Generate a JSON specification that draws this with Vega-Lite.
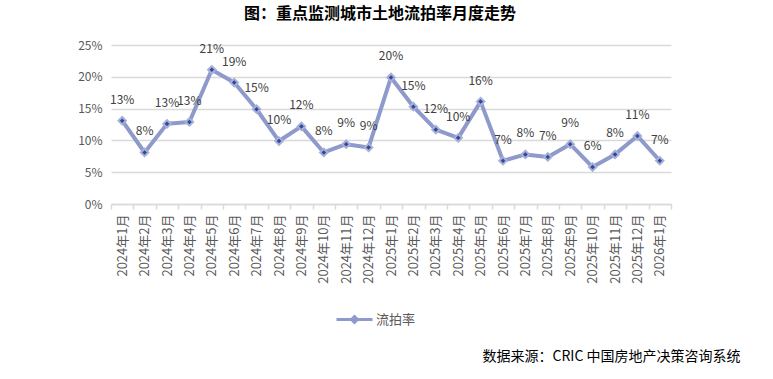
{
  "$schema": "https://vega.github.io/schema/vega-lite/v6.json",
  "autosize": "none",
  "width": 560,
  "height": 159,
  "padding": {"left": 111, "top": 45, "right": 102, "bottom": 175},
  "background": "white",
  "config": {
    "view": {"stroke": null},
    "font": "Noto Sans CJK SC"
  },
  "title": {
    "text": "图：重点监测城市土地流拍率月度走势",
    "font": "Noto Sans CJK SC",
    "fontSize": 16,
    "fontWeight": "bold",
    "color": "#000000",
    "anchor": "middle",
    "frame": "group",
    "dx": -11,
    "offset": 17
  },
  "data": {
    "values": [
      {"month": "2024年1月", "rate": 0.131, "series": "流拍率"},
      {"month": "2024年2月", "rate": 0.081, "series": "流拍率"},
      {"month": "2024年3月", "rate": 0.126, "series": "流拍率"},
      {"month": "2024年4月", "rate": 0.129, "series": "流拍率"},
      {"month": "2024年5月", "rate": 0.211, "series": "流拍率"},
      {"month": "2024年6月", "rate": 0.191, "series": "流拍率"},
      {"month": "2024年7月", "rate": 0.149, "series": "流拍率"},
      {"month": "2024年8月", "rate": 0.099, "series": "流拍率"},
      {"month": "2024年9月", "rate": 0.122, "series": "流拍率"},
      {"month": "2024年10月", "rate": 0.081, "series": "流拍率"},
      {"month": "2024年11月", "rate": 0.094, "series": "流拍率"},
      {"month": "2024年12月", "rate": 0.089, "series": "流拍率"},
      {"month": "2025年1月", "rate": 0.199, "series": "流拍率"},
      {"month": "2025年2月", "rate": 0.153, "series": "流拍率"},
      {"month": "2025年3月", "rate": 0.117, "series": "流拍率"},
      {"month": "2025年4月", "rate": 0.104, "series": "流拍率"},
      {"month": "2025年5月", "rate": 0.161, "series": "流拍率"},
      {"month": "2025年6月", "rate": 0.068, "series": "流拍率"},
      {"month": "2025年7月", "rate": 0.078, "series": "流拍率"},
      {"month": "2025年8月", "rate": 0.074, "series": "流拍率"},
      {"month": "2025年9月", "rate": 0.094, "series": "流拍率"},
      {"month": "2025年10月", "rate": 0.058, "series": "流拍率"},
      {"month": "2025年11月", "rate": 0.078, "series": "流拍率"},
      {"month": "2025年12月", "rate": 0.107, "series": "流拍率"},
      {"month": "2026年1月", "rate": 0.068, "series": "流拍率"}
    ]
  },
  "encoding": {
    "x": {
      "field": "month",
      "type": "ordinal",
      "sort": null,
      "scale": {"paddingInner": 0, "paddingOuter": 0},
      "axis": {
        "title": "数据来源：CRIC 中国房地产决策咨询系统",
        "titleFont": "Noto Sans CJK SC",
        "titleFontSize": 14,
        "titleFontWeight": "normal",
        "titleColor": "#000000",
        "titleAnchor": null,
        "titleAlign": "right",
        "titleBaseline": "middle",
        "titleX": 629,
        "titleY": 152,
        "labelAngle": -90,
        "labelFont": "Noto Sans CJK SC",
        "labelFontSize": 13,
        "labelColor": "#595959",
        "labelPadding": 5,
        "domainColor": "#D9D9D9",
        "domainWidth": 1.5,
        "tickColor": "#D9D9D9",
        "tickWidth": 1.5,
        "tickSize": 5,
        "bandPosition": 0,
        "tickBand": "extent",
        "grid": false
      }
    },
    "y": {
      "field": "rate",
      "type": "quantitative",
      "scale": {"domain": [0, 0.25], "nice": false},
      "axis": {
        "title": null,
        "values": [0, 0.05, 0.1, 0.15, 0.2, 0.25],
        "format": ".0%",
        "labelFont": "Noto Sans CJK SC",
        "labelFontSize": 12,
        "labelColor": "#595959",
        "labelPadding": 9,
        "domain": false,
        "ticks": false,
        "grid": true,
        "gridColor": "#D9D9D9",
        "gridWidth": 1.5
      }
    }
  },
  "layer": [
    {
      "mark": {"type": "line", "strokeWidth": 4, "strokeJoin": "round"},
      "encoding": {
        "stroke": {
          "field": "series",
          "type": "nominal",
          "scale": {"range": ["#8E9ACB"]},
          "legend": {
            "title": null,
            "orient": "none",
            "legendX": 224,
            "legendY": 255,
            "symbolType": "M-1,0H1M0,-0.16L0.16,0L0,0.16L-0.16,0Z",
            "symbolSize": 1296,
            "labelFont": "Noto Sans CJK SC",
            "labelFontSize": 13,
            "labelColor": "#595959",
            "labelOffset": 2,
            "encode": {
              "symbols": {
                "update": {
                  "fill": {"value": "#2F4A9A"},
                  "stroke": {"value": "#8E9ACB"},
                  "strokeWidth": {"value": 3},
                  "opacity": {"value": 1}
                }
              }
            }
          }
        }
      }
    },
    {
      "mark": {"type": "point", "shape": "diamond", "filled": true, "size": 55, "fill": "#2F4A9A", "stroke": "#A6AFD8", "strokeWidth": 2, "opacity": 1}
    },
    {
      "mark": {"type": "text", "dy": -21, "font": "Noto Sans CJK SC", "fontSize": 12, "color": "#404040"},
      "encoding": {
        "text": {"field": "rate", "type": "quantitative", "format": ".0%"}
      }
    }
  ]
}
